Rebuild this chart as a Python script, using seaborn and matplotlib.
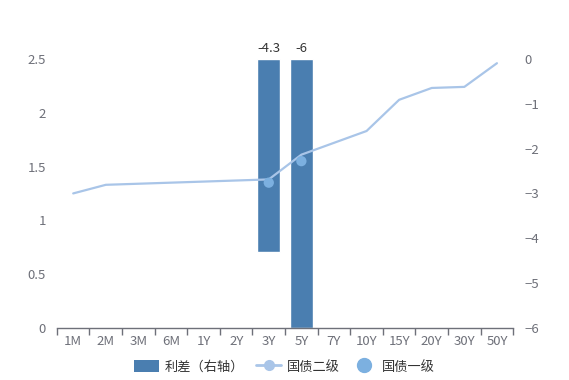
import numpy as np
import pandas as pd
import matplotlib
matplotlib.use('Agg')
import matplotlib.pyplot as plt
from matplotlib.lines import Line2D
from matplotlib.patches import Patch
import seaborn as sns

# data
tenors = ['1M', '2M', '3M', '6M', '1Y', '2Y', '3Y', '5Y', '7Y', '10Y', '15Y', '20Y', '30Y', '50Y']
secondary = [1.25, 1.33, np.nan, 1.35, np.nan, np.nan, 1.38, 1.61, 1.72, 1.83, 2.12, 2.23, 2.24, 2.46]
primary = [np.nan, np.nan, np.nan, np.nan, np.nan, np.nan, 1.35, 1.55, np.nan, np.nan, np.nan, np.nan, np.nan, np.nan]
spread = [np.nan, np.nan, np.nan, np.nan, np.nan, np.nan, -4.3, -6, np.nan, np.nan, np.nan, np.nan, np.nan, np.nan]

bar_color = '#4a7eb0'
line_color = '#a9c5e8'
dot_color = '#7cb0e0'
text_color = '#6e7079'

sns.set_theme(style='white')
plt.rcParams['font.family'] = ['Noto Sans CJK SC', 'DejaVu Sans']

df = pd.DataFrame({'tenor': tenors, 'secondary': secondary, 'primary': primary, 'spread': spread})
df['pos'] = np.arange(len(df))

fig = plt.figure(figsize=(5.69, 3.8), dpi=100)
ax = fig.add_axes([0.1, 0.137, 0.802, 0.708])
ax2 = ax.twinx()

# bars on right axis
sns.barplot(data=df, x='tenor', y='spread', order=tenors, color=bar_color, width=0.7,
            saturation=1, ax=ax2)
for _, r in df.dropna(subset=['spread']).iterrows():
    ax2.annotate(f"{r['spread']:g}", (r['pos'], 0), xytext=(0, 3), textcoords='offset points',
                 ha='center', va='bottom', fontsize=9.5, color='#333333')

# lines on left axis
line_df = df.dropna(subset=['secondary'])
sns.lineplot(data=line_df, x='pos', y='secondary', color=line_color, linewidth=1.6, ax=ax)
sns.scatterplot(data=df.dropna(subset=['primary']), x='pos', y='primary', color=dot_color,
                s=55, edgecolor='none', ax=ax, zorder=5)

ax.set_zorder(ax2.get_zorder() + 1)
ax.patch.set_visible(False)

ax.set_xlim(-0.5, len(tenors) - 0.5)
ax.set_ylim(0, 2.5)
ax2.set_ylim(-6, 0)
ax.set_yticks([0, 0.5, 1, 1.5, 2, 2.5])
ax.set_yticklabels(['0', '0.5', '1', '1.5', '2', '2.5'])
ax2.set_yticks([0, -1, -2, -3, -4, -5, -6])

for a in (ax, ax2):
    for s in a.spines.values():
        s.set_visible(False)
    a.set_xlabel('')
    a.set_ylabel('')
ax.spines['bottom'].set_visible(True)
ax.spines['bottom'].set_color(text_color)
ax.spines['bottom'].set_linewidth(1)

ax.set_xticks(df['pos'])
ax.set_xticklabels(tenors)
ax.tick_params(axis='y', length=0, pad=8, labelsize=9.5, labelcolor=text_color)
ax2.tick_params(axis='y', length=0, pad=8, labelsize=9.5, labelcolor=text_color)
ax.tick_params(axis='x', which='major', length=0, pad=5, labelsize=9.5, labelcolor=text_color,
               bottom=True, labelbottom=True)
# boundary ticks between categories
ax.set_xticks(np.arange(-0.5, len(tenors), 1), minor=True)
ax.tick_params(axis='x', which='minor', length=5, color=text_color, width=1, bottom=True)

handles = [
    Patch(facecolor=bar_color, edgecolor='none', label='利差（右轴）'),
    Line2D([0], [0], color=line_color, lw=2, marker='o', markersize=7, label='国债二级'),
    Line2D([0], [0], color=dot_color, lw=0, marker='o', markersize=10, label='国债一级'),
]
fig.legend(handles=handles, loc='center', bbox_to_anchor=(0.5, 0.035), ncol=3, frameon=False,
           fontsize=9.5, handlelength=1.9, handleheight=1.1, columnspacing=0.9, handletextpad=0.4,
           labelcolor='#333333')

fig.savefig('out.png', dpi=100)
